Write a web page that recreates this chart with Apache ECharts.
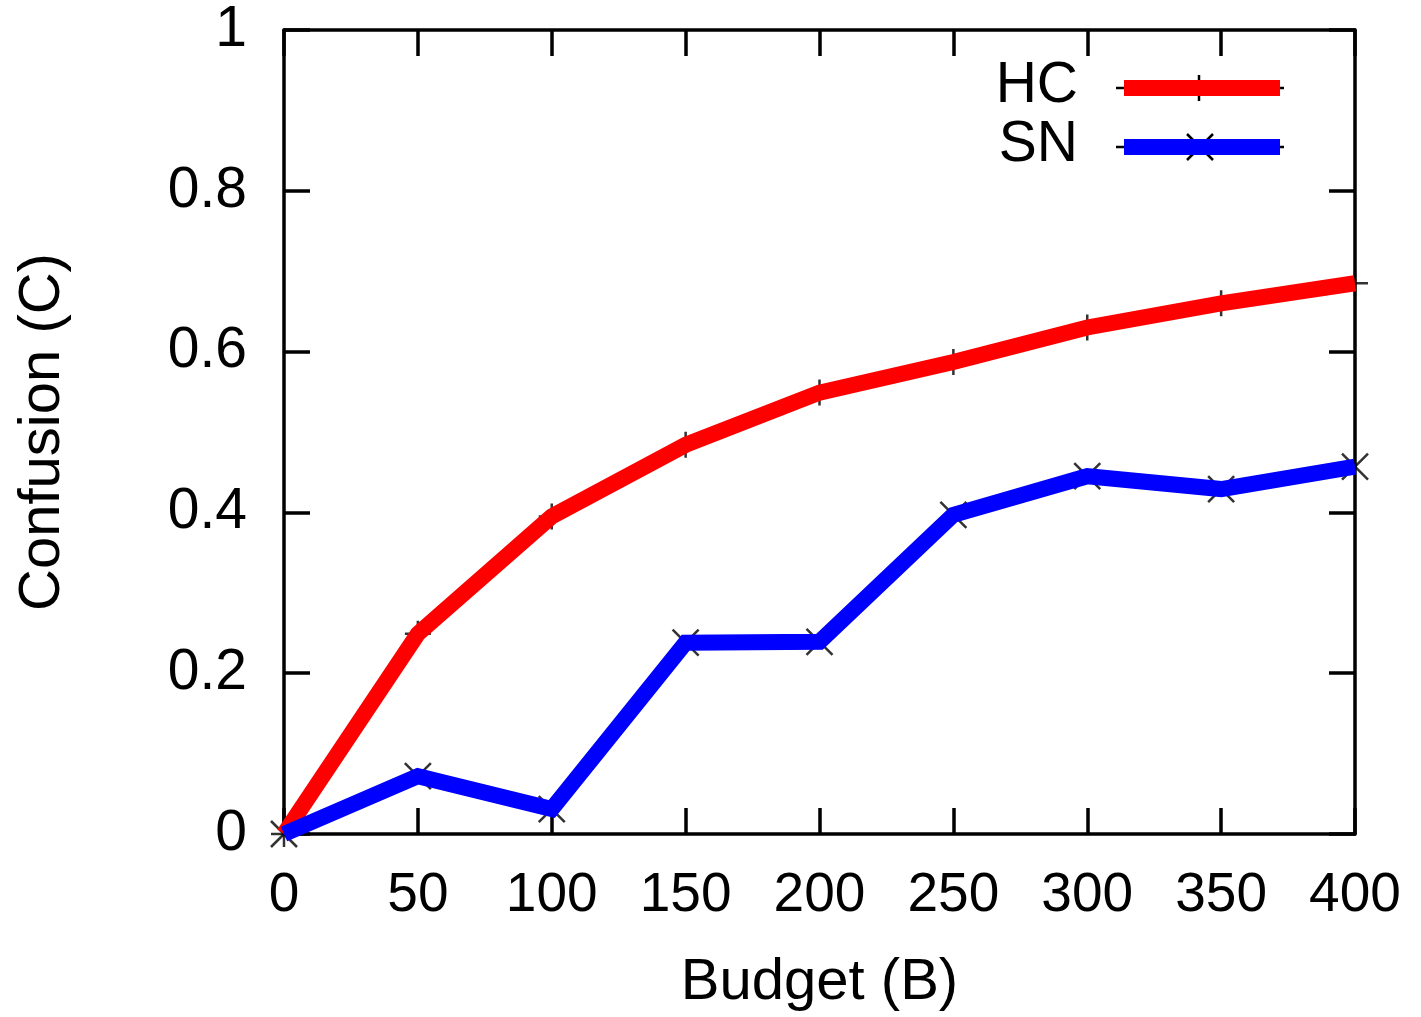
<!DOCTYPE html>
<html>
<head>
<meta charset="utf-8">
<script src="https://cdn.jsdelivr.net/npm/echarts@6/dist/echarts.min.js"></script>
<style>
html,body{margin:0;padding:0;background:#fff;}
#chart{width:1421px;height:1017px;}
</style>
</head>
<body>
<div id="chart"></div>
<script>
const budgets = [0, 50, 100, 150, 200, 250, 300, 350, 400];
const hcValues = [0, 0.249, 0.395, 0.484, 0.549, 0.587, 0.630, 0.660, 0.685];
const snValues = [0, 0.072, 0.031, 0.238, 0.239, 0.397, 0.445, 0.429, 0.457];
const seriesNames = ['HC', 'SN'];
const seriesColors = ['#ff0000', '#0000ff'];
const xTitle = 'Budget (B)';
const yTitle = 'Confusion (C)';

const FONT = '"Liberation Sans", Arial, Helvetica, sans-serif';
const plusPath = 'path://M13,0 L13,26 M0,13 L26,13';
const crossPath = 'path://M0,0 L26,26 M26,0 L0,26';

function pairs(vals) { return budgets.map((b, i) => [b, vals[i]]); }

function axisCommon() {
  return {
    axisLine: { show: true, onZero: false, lineStyle: { color: '#000', width: 3.5 } },
    axisTick: { show: true, inside: true, length: 26, lineStyle: { color: '#000', width: 3.5 } },
    splitLine: { show: false }
  };
}

const chart = echarts.init(document.getElementById('chart'), null, { renderer: 'canvas' });

const L = 284, R = 1355, T = 30, B = 835;

const legendGraphics = [];
[0, 1].forEach(i => {
  const y = i === 0 ? 88 : 147;
  legendGraphics.push({
    type: 'text', x: 1078, y: y - 2,
    style: { text: seriesNames[i], font: '57px ' + FONT, fill: '#000', textAlign: 'right', textVerticalAlign: 'middle' }
  });
  legendGraphics.push({
    type: 'line', shape: { x1: 1116, y1: y, x2: 1284, y2: y },
    style: { stroke: '#000', lineWidth: 2.5 }, z: 10
  });
  if (i === 0) {
    legendGraphics.push({ type: 'line', shape: { x1: 1199, y1: y - 13, x2: 1199, y2: y + 13 }, style: { stroke: '#000', lineWidth: 2.5 }, z: 10 });
  } else {
    legendGraphics.push({ type: 'line', shape: { x1: 1187, y1: y - 13, x2: 1213, y2: y + 13 }, style: { stroke: '#000', lineWidth: 2.5 }, z: 10 });
    legendGraphics.push({ type: 'line', shape: { x1: 1213, y1: y - 13, x2: 1187, y2: y + 13 }, style: { stroke: '#000', lineWidth: 2.5 }, z: 10 });
  }
  legendGraphics.push({
    type: 'line', shape: { x1: 1124, y1: y, x2: 1280, y2: y },
    style: { stroke: seriesColors[i], lineWidth: 16, lineCap: 'butt' }, z: 11
  });
});

const option = {
  backgroundColor: '#fff',
  animation: false,
  grid: { left: L, right: 1421 - R, top: T, bottom: 1017 - B, containLabel: false },
  xAxis: [
    Object.assign(axisCommon(), {
      type: 'value', min: 0, max: 400, interval: 50, position: 'bottom',
      name: xTitle, nameLocation: 'middle', nameGap: 120,
      nameTextStyle: { fontFamily: FONT, fontSize: 58, color: '#000' },
      axisLabel: { fontFamily: FONT, fontSize: 55, color: '#000', margin: 34 }
    }),
    Object.assign(axisCommon(), {
      type: 'value', min: 0, max: 400, interval: 50, position: 'top',
      axisLabel: { show: false }
    })
  ],
  yAxis: [
    Object.assign(axisCommon(), {
      type: 'value', min: 0, max: 1, interval: 0.2, position: 'left',
      name: yTitle, nameLocation: 'middle', nameGap: 212,
      nameTextStyle: { fontFamily: FONT, fontSize: 58, color: '#000' },
      axisLabel: { fontFamily: FONT, fontSize: 57, color: '#000', margin: 37 }
    }),
    Object.assign(axisCommon(), {
      type: 'value', min: 0, max: 1, interval: 0.2, position: 'right',
      axisLabel: { show: false }
    })
  ],
  series: [
    {
      name: 'HC markers', type: 'scatter', data: pairs(hcValues), z: 1,
      symbol: plusPath, symbolSize: 26,
      itemStyle: { color: 'rgba(0,0,0,0)', borderColor: '#000', borderWidth: 2.5 },
      silent: true
    },
    {
      name: 'SN markers', type: 'scatter', data: pairs(snValues), z: 1,
      symbol: crossPath, symbolSize: 26,
      itemStyle: { color: 'rgba(0,0,0,0)', borderColor: '#000', borderWidth: 2.5 },
      silent: true
    },
    {
      name: seriesNames[0], type: 'line', data: pairs(hcValues), z: 2,
      showSymbol: false, clip: false,
      lineStyle: { color: seriesColors[0], width: 16, cap: 'butt', join: 'miter' }
    },
    {
      name: seriesNames[1], type: 'line', data: pairs(snValues), z: 2,
      showSymbol: false, clip: false,
      lineStyle: { color: seriesColors[1], width: 16, cap: 'butt', join: 'miter' }
    }
  ],
  graphic: legendGraphics
};
chart.setOption(option);
</script>
</body>
</html>
